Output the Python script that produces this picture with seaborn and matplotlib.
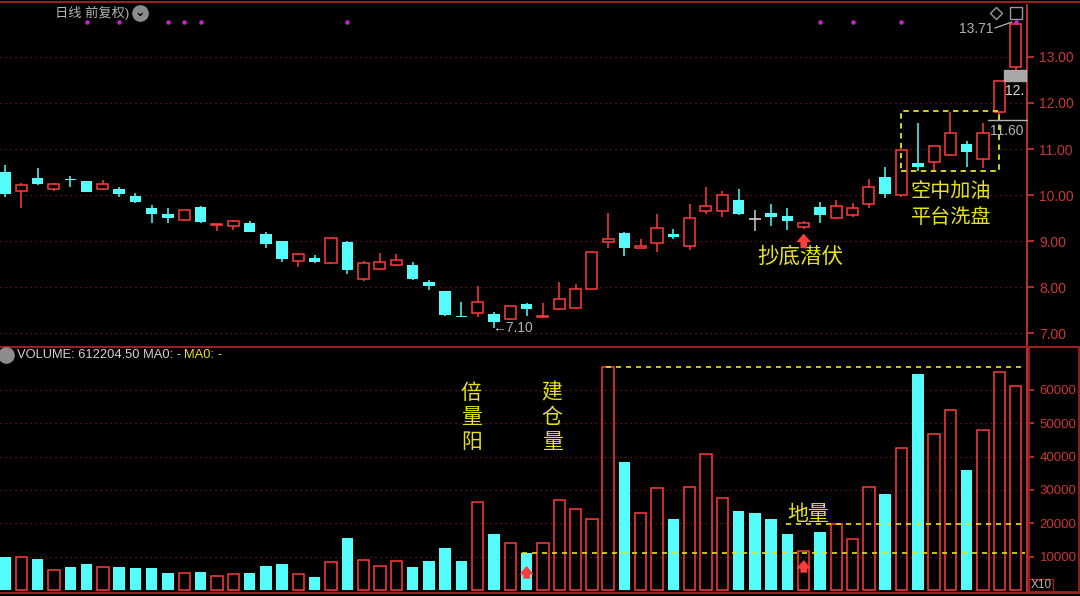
import numpy as np
import pandas as pd
import matplotlib
matplotlib.use("Agg")
import matplotlib.pyplot as plt
from matplotlib.lines import Line2D
from matplotlib.patches import Rectangle
import seaborn as sns

# daily bars, oldest first
opens = [10.50, 10.09, 10.37, 10.13, 10.35, 10.30, 10.13, 10.13, 9.98, 9.72,
         9.59, 9.46, 9.74, 9.35, 9.33, 9.39, 9.15, 9.00, 8.57, 8.63,
         8.52, 8.98, 8.17, 8.39, 8.48, 8.48, 8.11, 7.91, 7.37, 7.43,
         7.41, 7.30, 7.63, 7.35, 7.52, 7.54, 7.96, 8.98, 9.17, 8.85,
         8.96, 9.15, 8.89, 9.65, 9.65, 9.89, 9.48, 9.61, 9.54, 9.30,
         9.74, 9.50, 9.57, 9.80, 10.39, 10.00, 10.70, 10.72, 10.87, 11.11,
         10.78, 11.80, 12.78]
highs = [10.65, 10.26, 10.59, 10.26, 10.41, 10.31, 10.33, 10.17, 10.04, 9.78,
         9.72, 9.67, 9.76, 9.37, 9.46, 9.43, 9.20, 9.00, 8.74, 8.70,
         9.09, 9.00, 8.57, 8.74, 8.72, 8.54, 8.15, 7.91, 7.67, 8.02,
         7.46, 7.59, 7.65, 7.65, 8.11, 8.07, 8.78, 9.61, 9.20, 9.04,
         9.59, 9.26, 9.80, 10.17, 10.09, 10.13, 9.67, 9.80, 9.72, 9.43,
         9.85, 9.89, 9.83, 10.35, 10.61, 10.98, 11.57, 11.07, 11.80, 11.17,
         11.57, 12.48, 13.71]
lows = [9.96, 9.72, 10.22, 10.09, 10.17, 10.06, 10.11, 9.96, 9.83, 9.39,
        9.39, 9.43, 9.39, 9.22, 9.24, 9.20, 8.85, 8.54, 8.43, 8.52,
        8.50, 8.28, 8.13, 8.37, 8.46, 8.15, 7.93, 7.37, 7.35, 7.35,
        7.10, 7.28, 7.37, 7.33, 7.50, 7.52, 7.96, 8.85, 8.67, 8.85,
        8.76, 9.04, 8.80, 9.59, 9.52, 9.57, 9.22, 9.33, 9.24, 9.26,
        9.39, 9.48, 9.52, 9.72, 9.93, 9.96, 10.52, 10.52, 10.85, 10.61,
        10.59, 11.60, 12.70]
closes = [10.02, 10.22, 10.24, 10.24, 10.33, 10.07, 10.24, 10.02, 9.85, 9.59,
          9.50, 9.67, 9.41, 9.37, 9.43, 9.20, 8.93, 8.61, 8.72, 8.54,
          9.07, 8.37, 8.52, 8.54, 8.59, 8.17, 8.02, 7.39, 7.35, 7.67,
          7.24, 7.59, 7.52, 7.37, 7.74, 7.96, 8.76, 9.04, 8.85, 8.89,
          9.28, 9.09, 9.50, 9.76, 10.00, 9.59, 9.48, 9.52, 9.43, 9.39,
          9.57, 9.76, 9.72, 10.17, 10.02, 10.98, 10.61, 11.07, 11.35, 10.93,
          11.35, 12.48, 13.71]
volume = [9900, 9900, 9300, 6000, 6900, 7800, 7000, 6900, 6500, 6700,
          5100, 5100, 5500, 4100, 4700, 5100, 7300, 7900, 4700, 3900,
          8300, 15500, 8900, 7300, 8600, 7000, 8600, 12700, 8600, 26300,
          16900, 14000, 11200, 14000, 27000, 24200, 21300, 66800, 38400, 23100,
          30600, 21300, 30900, 40900, 27600, 23800, 23100, 21300, 16900, 11700,
          17400, 19700, 15300, 30900, 28800, 42600, 64900, 46900, 54000, 36000,
          48000, 65400, 61220]
event_days = [5, 7, 10, 11, 12, 21, 50, 52, 55, 62]
price_ticks = [7, 8, 9, 10, 11, 12, 13]
vol_ticks = [10000, 20000, 30000, 40000, 50000, 60000]

RED = "#ff3c3c"
CYAN = "#54fcfc"
YEL = "#e6e21e"
GRID = "#7a1c1c"
AXRED = "#c83737"
GREY = "#b4b4b4"

sns.set_theme(style="dark", rc={"axes.facecolor": "black", "figure.facecolor": "black",
                                "axes.edgecolor": AXRED})
plt.rcParams["font.family"] = ["Liberation Sans", "Noto Sans CJK SC", "DejaVu Sans"]

df = pd.DataFrame({"day": np.arange(len(opens)), "open": opens, "high": highs,
                   "low": lows, "close": closes, "vol": volume})
df["up"] = df.close > df.open
df["top"] = df[["open", "close"]].max(axis=1)
df["bot"] = df[["open", "close"]].min(axis=1)
df["body"] = (df.top - df.bot).clip(lower=0.015)
flat = df.close == df.open

W, H = 1080, 596
fig = plt.figure(figsize=(10.8, 5.96), dpi=100)


def fp(x, y):
    return x / W, 1 - y / H


ARROW = dict(arrowstyle="simple,head_width=0.85,head_length=0.5,tail_width=0.38",
             color=RED, mutation_scale=10, shrinkA=0, shrinkB=0)

ax_p = fig.add_axes([0, 251 / H, 1027 / W, 340 / H])
ax_v = fig.add_axes([0, 4 / H, 1027 / W, 245 / H])

# ---- price panel
up = df[df.up]
dn = df[~df.up & ~flat]
fl = df[flat]
ax_p.vlines(up.day, up.top, up.high, color=RED, lw=1.1, zorder=2)
ax_p.vlines(up.day, up.low, up.bot, color=RED, lw=1.1, zorder=2)
ax_p.bar(up.day, up.body, bottom=up.bot, width=0.68, facecolor="black",
         edgecolor=RED, linewidth=1.1, zorder=3)
ax_p.vlines(dn.day, dn.low, dn.high, color=CYAN, lw=1.1, zorder=2)
ax_p.bar(dn.day, dn.body, bottom=dn.bot, width=0.7, color=CYAN, linewidth=0, zorder=3)
ax_p.vlines(fl.day, fl.low, fl.high, color="#d0d0d0", lw=1.1, zorder=2)
ax_p.hlines(fl.close, fl.day - 0.35, fl.day + 0.35, color="#d0d0d0", lw=1.2, zorder=3)

ax_p.scatter(event_days, [13.76] * len(event_days), s=5, color="#d020d0", zorder=4)

ax_p.set_xlim(-0.31, 62.70)
ax_p.set_ylim(6.74, 14.13)
ax_p.set_yticks(price_ticks)
ax_p.set_yticklabels([f"{t:.2f}" for t in price_ticks])

# platform box and notes
ax_p.add_patch(Rectangle((54.97, 10.52), 6.0, 1.31, fill=False, edgecolor=YEL,
                         lw=1.3, ls=(0, (3, 2.5)), zorder=5))
ax_p.text(58.03, 10.07, "空中加油", color=YEL, fontsize=14.5, ha="center", va="center")
ax_p.text(58.03, 9.51, "平台洗盘", color=YEL, fontsize=14.5, ha="center", va="center")
ax_p.text(48.77, 8.65, "抄底潜伏", color=YEL, fontsize=15.5, ha="center", va="center")
ax_p.annotate("", xy=(49, 9.14), xytext=(49, 8.86), arrowprops=ARROW, zorder=6)
ax_p.text(29.9, 7.11, "←7.10", color=GREY, fontsize=10, ha="left", va="center")

# ---- volume panel
sns.barplot(data=df[df.up], x="day", y="vol", native_scale=True, orient="v", fill=False,
            color=RED, saturation=1, width=0.7, linewidth=1.1, errorbar=None, ax=ax_v)
sns.barplot(data=df[~df.up], x="day", y="vol", native_scale=True, orient="v",
            color=CYAN, saturation=1, width=0.7, linewidth=0, errorbar=None, ax=ax_v)

ax_v.set_xlim(-0.31, 62.70)
ax_v.set_ylim(-600, 72900)
ax_v.set_yticks(vol_ticks)
ax_v.set_yticklabels([str(t) for t in vol_ticks])

for lvl, x0 in [(66800, 36.9), (19700, 47.9), (11200, 31.7)]:
    ax_v.hlines(lvl, x0, 62.6, color=YEL, lw=1.2, ls=(0, (3, 3)), zorder=5)

for x, word in [(28.6, "倍量阳"), (33.56, "建仓量")]:
    for k, ch in enumerate(word):
        ax_v.text(x, 59200 - 7400 * k, ch, color=YEL, fontsize=15, ha="center", va="center")
ax_v.text(49.26, 22800, "地量", color=YEL, fontsize=15, ha="center", va="center")
for x, y0, y1 in [(32, 3600, 6900), (49, 5400, 8700)]:
    ax_v.annotate("", xy=(x, y1), xytext=(x, y0), arrowprops=ARROW, zorder=6)

# ---- shared axis styling
for ax, size in ((ax_p, 10), (ax_v, 9.5)):
    ax.set_xlabel("")
    ax.set_ylabel("")
    ax.set_xticks([])
    ax.yaxis.tick_right()
    ax.tick_params(axis="y", colors=AXRED, labelcolor=AXRED, labelsize=size,
                   length=5, width=1.2, direction="out", pad=4, right=True, left=False)
    ax.grid(False)
    ax.grid(axis="y", color=GRID, lw=0.9, ls=(0, (1, 3)))
    ax.set_axisbelow(True)
    for s in ("left", "top", "bottom"):
        ax.spines[s].set_visible(False)
    ax.spines["right"].set_color(AXRED)
    ax.spines["right"].set_linewidth(1.3)

# ---- frame lines and header bits
for y in (2, 346.5, 592.5):
    fig.add_artist(Line2D([0, 1], [1 - y / H] * 2, color="#a02020", lw=1.4))
fig.add_artist(Rectangle(fp(1029, 592), 50 / W, 245 / H, fill=False,
                         edgecolor="#a02020", lw=1.3))
fig.add_artist(Rectangle(fp(1029, 592), 24 / W, 13 / H, fill=False,
                         edgecolor="#a02020", lw=1.0))
fig.text(*fp(1041, 585.5), "X10", color=GREY, fontsize=8.5, ha="center", va="center")

fig.text(*fp(55, 13), "日线 前复权)", color=GREY, fontsize=9.5, ha="left", va="center")
fig.add_artist(Line2D([140 / W], [1 - 13 / H], marker="o", markersize=11, color="#8c8c8c",
                      transform=fig.transFigure))
fig.text(*fp(140, 12), "⌄", color="black", fontsize=9, ha="center", va="center",
         family="DejaVu Sans", fontweight="bold")
fig.add_artist(Line2D([996 / W], [1 - 13 / H], marker="D", markersize=6, mfc="none",
                      mec="#9a9a9a", transform=fig.transFigure))
fig.add_artist(Line2D([1016 / W], [1 - 13 / H], marker="s", markersize=8, mfc="none",
                      mec="#9a9a9a", transform=fig.transFigure))

fig.add_artist(Line2D([6 / W], [1 - 355 / H], marker="o", markersize=11, color="#8c8c8c",
                      transform=fig.transFigure))
fig.text(*fp(17, 355), "VOLUME: 612204.50 MA0: -", color="#d2d2d2", fontsize=9.3,
         ha="left", va="center")
fig.text(*fp(184, 355), "MA0: -", color=YEL, fontsize=9.3, ha="left", va="center")

# price tags on the right edge
fig.text(*fp(993, 29), "13.71", color=GREY, fontsize=10, ha="right", va="center")
fig.add_artist(Line2D([995 / W, 1012 / W], [1 - 28 / H, 1 - 22 / H], color=GREY, lw=0.9))
fig.add_artist(Rectangle(fp(1004, 81), 22 / W, 11 / H, color="#a8a8a8"))
fig.text(*fp(1005, 91), "12.", color="#d8d8d8", fontsize=10, ha="left", va="center")
fig.add_artist(Line2D([988 / W, 1027 / W], [1 - 120 / H] * 2, color=GREY, lw=1.0))
fig.text(*fp(1007, 131), "11.60", color=GREY, fontsize=10, ha="center", va="center")

fig.savefig("out.png", dpi=100, facecolor="black")
